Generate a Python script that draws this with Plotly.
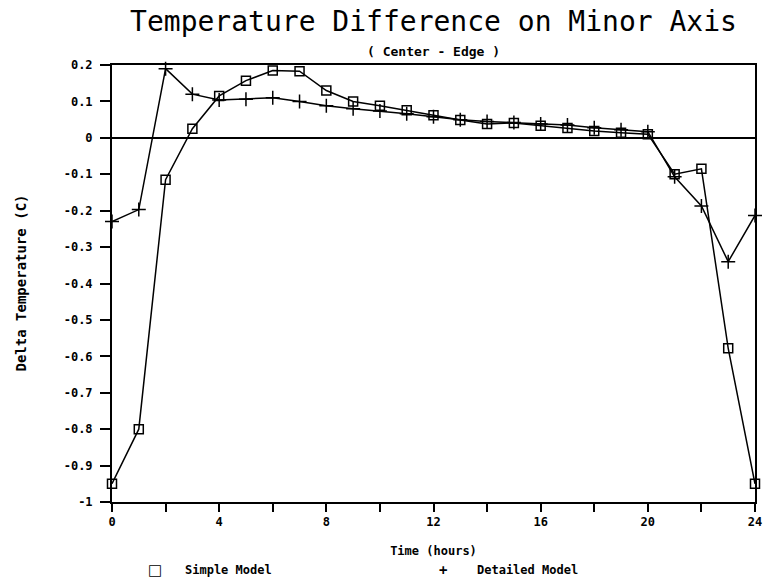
import plotly.graph_objects as go

hours = list(range(25))
simple_model = [-0.95, -0.80, -0.115, 0.025, 0.115, 0.157, 0.185, 0.183, 0.13, 0.10,
                0.088, 0.076, 0.062, 0.049, 0.038, 0.041, 0.033, 0.027, 0.019, 0.014,
                0.01, -0.10, -0.085, -0.578, -0.95]
detailed_model = [-0.23, -0.197, 0.19, 0.12, 0.104, 0.106, 0.11, 0.10, 0.088, 0.08,
                  0.074, 0.066, 0.058, 0.05, 0.045, 0.042, 0.038, 0.035, 0.028, 0.022,
                  0.017, -0.107, -0.187, -0.34, -0.213]
y_tickvals = [0.2, 0.1, 0, -0.1, -0.2, -0.3, -0.4, -0.5, -0.6, -0.7, -0.8, -0.9, -1]
y_ticktext = ["0.2", "0.1", "0", "-0.1", "-0.2", "-0.3", "-0.4", "-0.5", "-0.6",
              "-0.7", "-0.8", "-0.9", "-1"]
x_tickvals = [0, 4, 8, 12, 16, 20, 24]
series_names = ["Simple Model", "Detailed Model"]

W, H = 765, 582
L, R, T, B = 112, 10, 65, 80
PW, PH = W - L - R, H - T - B

fig = go.Figure()
fig.add_trace(go.Scatter(
    x=hours, y=simple_model, mode="lines+markers", name=series_names[0], showlegend=False,
    line=dict(color="black", width=1.5),
    marker=dict(symbol="square-open", size=9, color="black", line=dict(width=1.5)),
    cliponaxis=False))
fig.add_trace(go.Scatter(
    x=hours, y=detailed_model, mode="lines+markers", name=series_names[1], showlegend=False,
    line=dict(color="black", width=1.5),
    marker=dict(symbol="cross-thin-open", size=10, color="black",
                line=dict(width=1.5, color="black")),
    cliponaxis=False))

mono = "DejaVu Sans Mono"
tickfont = dict(family=mono, size=12, color="black", weight="bold")
labfont = dict(family=mono, size=12, color="black", weight="bold")


def px_x(p):
    return (p - L) / PW


def px_y(p):
    return 1 - (p - T) / PH


annotations = [
    dict(text="( Center - Edge )", xref="paper", yref="paper", x=0.5, y=px_y(52),
         xanchor="center", yanchor="middle", showarrow=False,
         font=dict(family=mono, size=13, color="black", weight="bold")),
    dict(text="Delta Temperature (C)", xref="paper", yref="paper", x=px_x(20), y=0.5,
         xanchor="center", yanchor="middle", textangle=-90, showarrow=False,
         font=dict(family=mono, size=14, color="black", weight="bold")),
    # legend
    dict(text="□", xref="paper", yref="paper", x=px_x(155), y=px_y(570),
         xanchor="center", yanchor="middle", showarrow=False,
         font=dict(family="DejaVu Sans", size=15, color="black")),
    dict(text=series_names[0], xref="paper", yref="paper", x=px_x(183), y=px_y(570),
         xanchor="left", yanchor="middle", showarrow=False, font=labfont),
    dict(text="+", xref="paper", yref="paper", x=px_x(443), y=px_y(570),
         xanchor="center", yanchor="middle", showarrow=False,
         font=dict(family=mono, size=14, color="black", weight="bold")),
    dict(text=series_names[1], xref="paper", yref="paper", x=px_x(475), y=px_y(570),
         xanchor="left", yanchor="middle", showarrow=False, font=labfont),
]

fig.update_layout(
    width=W, height=H,
    margin=dict(l=L, r=R, t=T, b=B, autoexpand=False),
    paper_bgcolor="white", plot_bgcolor="white",
    showlegend=False,
    title=dict(text="Temperature Difference on Minor Axis",
               font=dict(family=mono, size=28, color="black"),
               xref="paper", x=0.5, xanchor="center", y=1 - 21 / H, yanchor="middle"),
    xaxis=dict(range=[0, 24], tickvals=x_tickvals, ticks="outside", ticklen=8,
               tickwidth=1.5, tickcolor="black",
               minor=dict(dtick=2, ticks="outside", ticklen=8, tickwidth=1.5,
                          tickcolor="black"),
               showgrid=False, zeroline=False, showline=True, linecolor="black",
               linewidth=2, mirror=True, tickfont=tickfont, automargin=False,
               title=dict(text="Time (hours)", font=labfont, standoff=18)),
    yaxis=dict(range=[-1, 0.2], tickvals=y_tickvals, ticktext=y_ticktext,
               ticks="outside", ticklen=10, tickwidth=1.5, tickcolor="black",
               ticklabelstandoff=5,
               showgrid=False, zeroline=True, zerolinecolor="black", zerolinewidth=1.5,
               showline=True, linecolor="black", linewidth=2, mirror=True,
               tickfont=tickfont, automargin=False),
    annotations=annotations,
)

fig.write_html("out.html", config={"displayModeBar": False},
               post_script="document.body.style.margin='0';document.body.style.overflow='hidden';")
